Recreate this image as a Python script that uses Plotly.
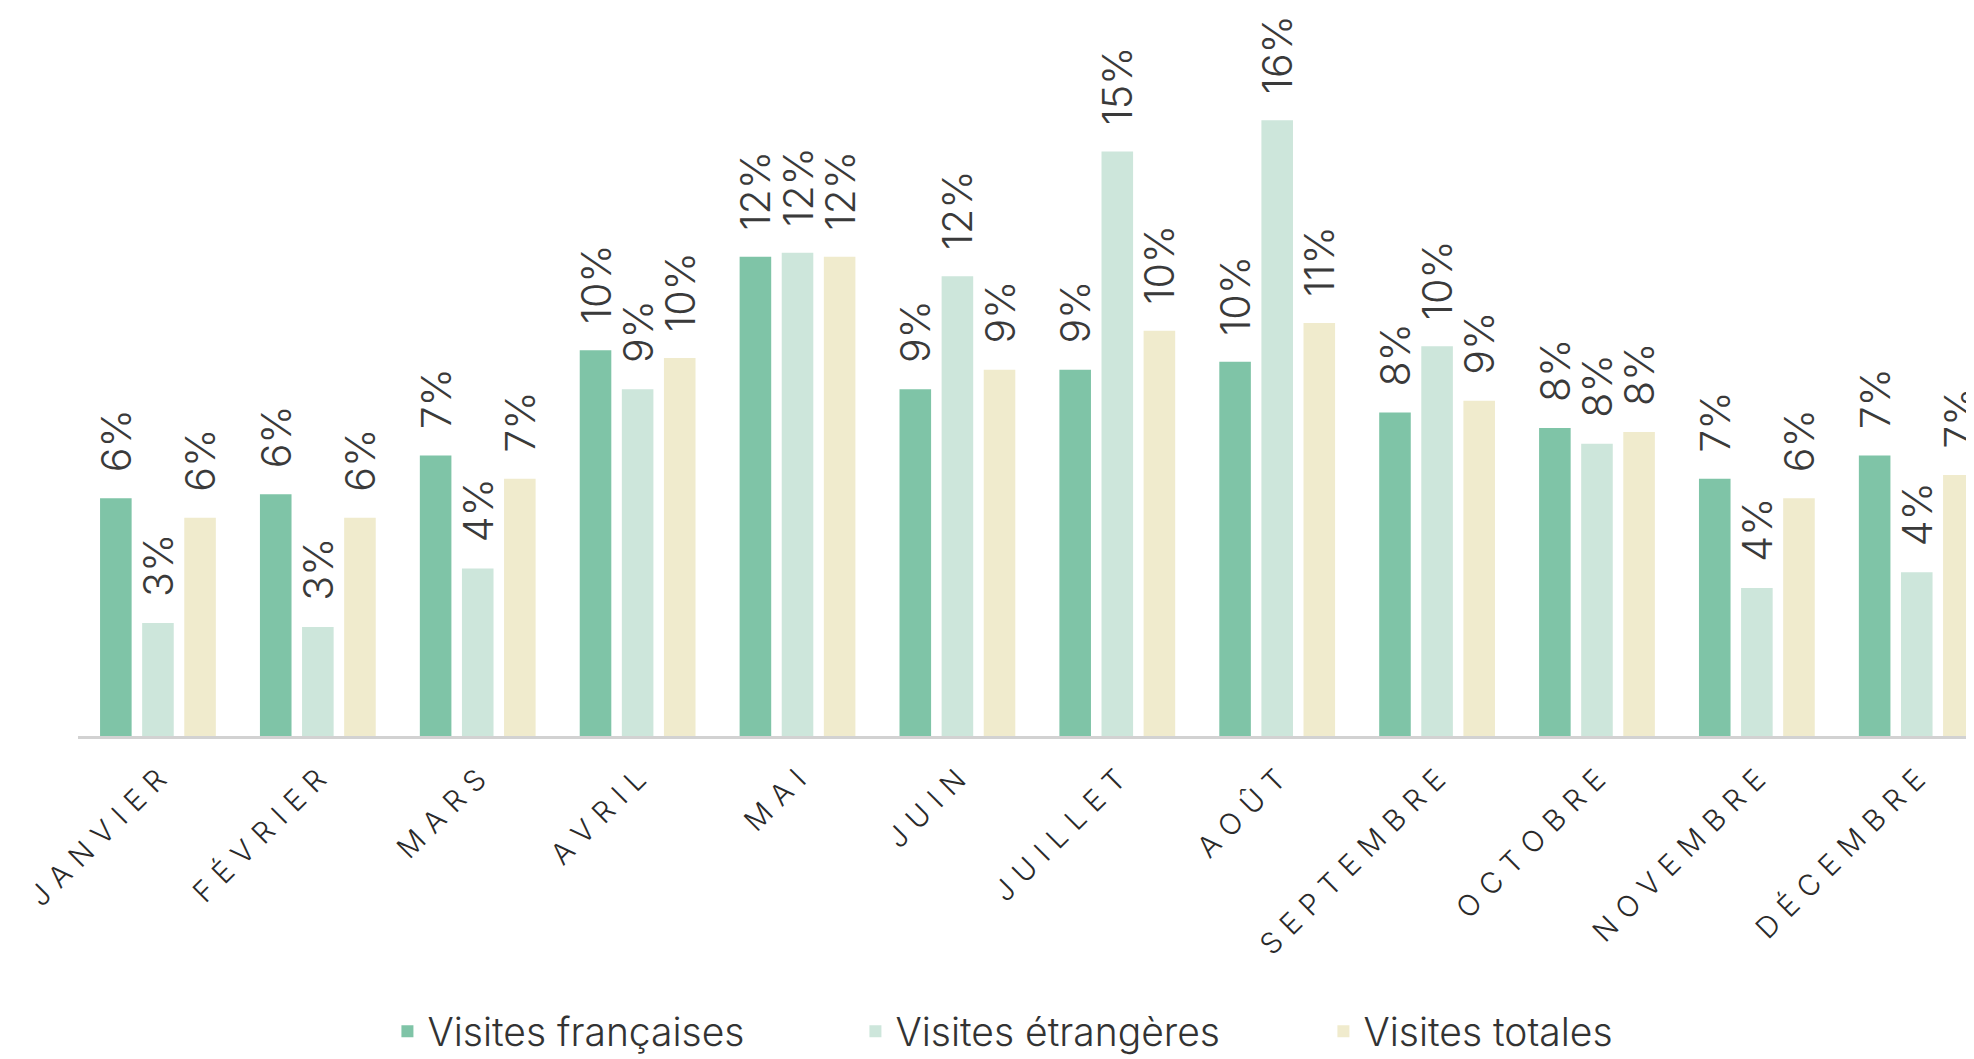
import plotly.graph_objects as go

mois = ["JANVIER", "FÉVRIER", "MARS", "AVRIL", "MAI", "JUIN", "JUILLET",
        "AOÛT", "SEPTEMBRE", "OCTOBRE", "NOVEMBRE", "DÉCEMBRE"]

visites_francaises = [6.1, 6.2, 7.2, 9.9, 12.3, 8.9, 9.4, 9.6, 8.3, 7.9, 6.6, 7.2]
visites_etrangeres = [2.9, 2.8, 4.3, 8.9, 12.4, 11.8, 15.0, 15.8, 10.0, 7.5, 3.8, 4.2]
visites_totales = [5.6, 5.6, 6.6, 9.7, 12.3, 9.4, 10.4, 10.6, 8.6, 7.8, 6.1, 6.7]

series = [
    ("Visites françaises", visites_francaises, "#7fc4a7"),
    ("Visites étrangères", visites_etrangeres, "#cde6db"),
    ("Visites totales", visites_totales, "#f0ebcd"),
]

FONT = "Inter"

# letter-spaced month labels (wide tracking as in the original)
mois_affiches = ["\u2004".join(m) for m in mois]

fig = go.Figure()
for name, vals, color in series:
    fig.add_trace(go.Bar(
        name=name,
        x=mois_affiches,
        y=vals,
        marker=dict(color=color, line=dict(width=0)),
        text=["\u00a0\u00a0" + f"{round(v):.0f}%" for v in vals],
        textposition="outside",
        textangle=-90,
        constraintext="none",
        cliponaxis=False,
        textfont=dict(family=FONT, size=41, color="#3a3a3a", weight=300),
        hoverinfo="skip",
    ))

fig.update_layout(
    width=1974,
    height=1059,
    margin=dict(l=70, r=8, t=0, b=330.5),
    paper_bgcolor="white",
    plot_bgcolor="white",
    barmode="group",
    bargap=0.21,
    bargroupgap=0.25,
    showlegend=True,
    legend=dict(
        orientation="h",
        x=0.1632,
        xanchor="left",
        y=-0.4056,
        yanchor="middle",
        font=dict(family=FONT, size=39, color="#333333", weight=300),
        traceorder="normal",
        entrywidth=423,
        entrywidthmode="pixels",
    ),
    xaxis=dict(
        type="category",
        range=[-0.5, 11.358],
        showline=True,
        linecolor="#d2d2d2",
        linewidth=3,
        showgrid=False,
        zeroline=False,
        ticks="",
        tickangle=-45,
        tickfont=dict(family=FONT, size=29, color="#2a2a2a", weight=300),
        ticklabelstandoff=12,
    ),
    yaxis=dict(
        range=[0, 18.68],
        visible=False,
        showgrid=False,
        zeroline=False,
    ),
)

fig.write_html("out.html")
